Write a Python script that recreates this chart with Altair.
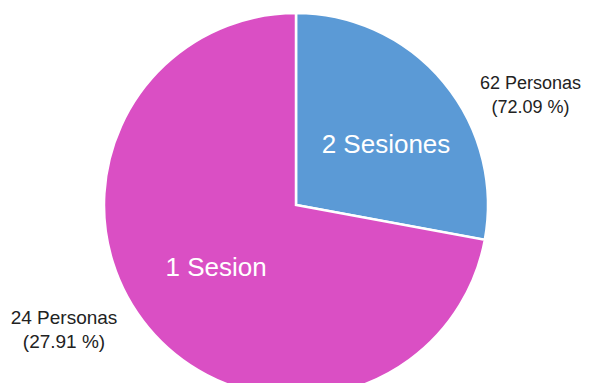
import altair as alt
import pandas as pd

categories = ["2 Sesiones", "1 Sesion"]
personas = [24, 62]
order = [1, 2]
outer_labels = ["62 Personas\n(72.09 %)", "24 Personas\n(27.91 %)"]
colors = ["#5B9AD6", "#DA4FC4"]

df = pd.DataFrame({
    "cat": categories,
    "value": personas,
    "order": order,
    "outer": outer_labels,
})

CX, CY = 288, 197
FONT = "Liberation Sans"

base = alt.Chart(df).encode(
    theta=alt.Theta("value:Q", stack=True),
    order=alt.Order("order:Q"),
    x=alt.value(CX),
    y=alt.value(CY),
)

pie = base.mark_arc(radius=192, stroke="white", strokeWidth=2.5).encode(
    color=alt.Color("cat:N", scale=alt.Scale(domain=categories, range=colors), legend=None)
)


def inner(cat, r, dx, dy):
    return base.transform_calculate(
        lab=f"datum.cat == '{cat}' ? datum.cat : ''"
    ).mark_text(
        radius=r, dx=dx, dy=dy, font=FONT, fontSize=26, color="white",
        align="center", baseline="middle"
    ).encode(text="lab:N")


def outer(cat, r, dx, dy, size):
    return base.transform_calculate(
        lab=f"datum.cat == '{cat}' ? datum.outer : ''"
    ).mark_text(
        radius=r, dx=dx, dy=dy, font=FONT, fontSize=size, color="#222222",
        align="center", baseline="middle", lineBreak="\n", lineHeight=24
    ).encode(text="lab:N")


chart = alt.layer(
    pie,
    inner("2 Sesiones", 108, 7, 9),
    inner("1 Sesion", 100, -3, -1),
    outer("2 Sesiones", 255, 38.5, 42.5, 18),
    outer("1 Sesion", 255, -36, -50, 19),
).properties(
    width=576, height=375, autosize="none", padding=0
).configure_view(stroke=None)

chart.save("out.html", embed_options={"renderer": "svg", "actions": False})
